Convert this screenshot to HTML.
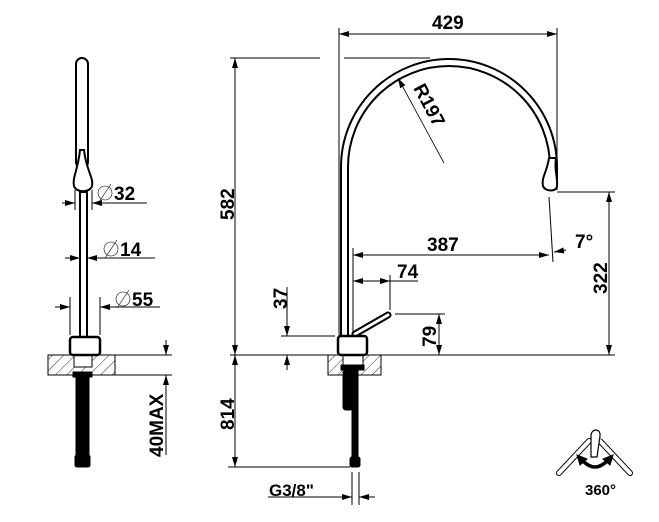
<!DOCTYPE html>
<html><head><style>
html,body{margin:0;padding:0;background:#fff;}
svg{display:block;}
text{font-family:"Liberation Sans",Arial,sans-serif;font-weight:bold;fill:#000;}
</style></head><body>
<svg width="659" height="522" viewBox="0 0 659 522" xmlns="http://www.w3.org/2000/svg">
<defs>
<marker id="a" viewBox="0 0 10 6" refX="10" refY="3" markerWidth="10" markerHeight="6" markerUnits="userSpaceOnUse" orient="auto-start-reverse"><path d="M0,0L10,3L0,6z" fill="#000"/></marker>
<pattern id="h" width="8" height="8" patternUnits="userSpaceOnUse" patternTransform="rotate(45)"><line x1="0" y1="0" x2="0" y2="8" stroke="#333" stroke-width="1"/></pattern>
</defs>
<g stroke="#000" fill="none" stroke-width="1">
<!-- LEFT VIEW -->
<rect x="76" y="58" width="12" height="110" rx="6" stroke-width="2"/>
<path d="M80,150 C78,170 72,178 74,186 C76,193 90,193 92,186 C94,178 86,170 84,150 Z" fill="#fff" stroke-width="2"/>
<rect x="80" y="192" width="7" height="145" stroke-width="2"/>
<rect x="48" y="355" width="67" height="20" fill="url(#h)"/>
<rect x="74" y="355" width="18" height="12" fill="#fff"/>
<rect x="70" y="337" width="30" height="18" rx="3" fill="#fff" stroke-width="2.5"/>
<rect x="76" y="375" width="13" height="90" fill="#000"/>
<rect x="73" y="372" width="19" height="5" fill="#000"/>
<rect x="75" y="455" width="15" height="12" rx="2" fill="#000"/>
<!-- left dims -->
<line x1="75" y1="190" x2="75" y2="210"/><line x1="92" y1="190" x2="92" y2="210"/>
<line x1="62" y1="203" x2="75" y2="203" marker-end="url(#a)"/>
<line x1="147" y1="203" x2="92" y2="203" marker-end="url(#a)"/>
<line x1="65" y1="258" x2="80" y2="258" marker-end="url(#a)"/>
<line x1="155" y1="258" x2="87" y2="258" marker-end="url(#a)"/>
<line x1="70" y1="297" x2="70" y2="335"/><line x1="100" y1="297" x2="100" y2="335"/>
<line x1="55" y1="307" x2="70" y2="307" marker-end="url(#a)"/>
<line x1="160" y1="307" x2="100" y2="307" marker-end="url(#a)"/>
<line x1="115" y1="355" x2="172" y2="355"/><line x1="115" y1="375" x2="172" y2="375"/>
<line x1="166" y1="340" x2="166" y2="355" marker-end="url(#a)"/>
<line x1="166" y1="455" x2="166" y2="375" marker-end="url(#a)"/>
<!-- RIGHT VIEW -->
<path d="M341,336 L341,167 A108,108 0 0 1 557,167 L557,180" stroke-width="2"/>
<path d="M348,336 L348,167 A101,101 0 0 1 550,167 L550,180" stroke-width="2"/>
<path d="M549,158 C547,172 541,178 543,186 C545,192 557,192 557,186 C558,178 554,170 556,158 Z" fill="#fff" stroke-width="2"/>
<line x1="355" y1="334" x2="388" y2="315" stroke-width="7" stroke-linecap="round"/>
<line x1="355" y1="334" x2="388" y2="315" stroke="#fff" stroke-width="3" stroke-linecap="round"/>
<rect x="328" y="355" width="53" height="20" fill="url(#h)"/>
<rect x="343" y="355" width="20" height="10" fill="#fff"/>
<rect x="338" y="336" width="29" height="19" rx="3" fill="#fff" stroke-width="2.5"/>
<rect x="341" y="365" width="23" height="5" fill="#000"/>
<rect x="343" y="370" width="10" height="40" rx="3" fill="#000"/>
<rect x="352" y="370" width="6" height="97" fill="#000"/>
<rect x="350" y="457" width="10" height="10" rx="2" fill="#000"/>
<!-- right dims -->
<line x1="339" y1="28" x2="339" y2="336"/>
<line x1="557" y1="28" x2="557" y2="190"/>
<line x1="339" y1="34" x2="557" y2="34" marker-start="url(#a)" marker-end="url(#a)"/>
<line x1="230" y1="58" x2="320" y2="58"/><line x1="344" y1="58" x2="430" y2="58"/>
<line x1="235" y1="58" x2="235" y2="355" marker-start="url(#a)" marker-end="url(#a)"/>
<line x1="230" y1="355" x2="615" y2="355"/>
<line x1="557" y1="192" x2="615" y2="192"/>
<line x1="609" y1="192" x2="609" y2="355" marker-start="url(#a)" marker-end="url(#a)"/>
<line x1="444" y1="163" x2="398" y2="78" stroke-width="0.8" marker-end="url(#a)"/>
<line x1="353" y1="248" x2="353" y2="336"/>
<line x1="353" y1="255" x2="549" y2="255" marker-start="url(#a)" marker-end="url(#a)"/>
<line x1="549" y1="197" x2="553" y2="262"/>
<line x1="566" y1="250" x2="554" y2="252" marker-end="url(#a)"/>
<line x1="353" y1="281" x2="418" y2="281"/>
<line x1="370" y1="281" x2="353" y2="281" marker-end="url(#a)"/>
<line x1="375" y1="281" x2="390" y2="281" marker-end="url(#a)"/>
<line x1="390" y1="275" x2="390" y2="310"/>
<line x1="395" y1="314" x2="445" y2="314"/>
<line x1="439" y1="314" x2="439" y2="355" marker-start="url(#a)" marker-end="url(#a)"/>
<line x1="281" y1="336" x2="335" y2="336"/>
<line x1="287" y1="287" x2="287" y2="336" marker-end="url(#a)"/>
<line x1="287" y1="370" x2="287" y2="355" marker-end="url(#a)"/>
<line x1="228" y1="467" x2="350" y2="467"/>
<line x1="235" y1="355" x2="235" y2="467" marker-start="url(#a)" marker-end="url(#a)"/>
<line x1="352" y1="472" x2="352" y2="505"/><line x1="359" y1="472" x2="359" y2="505"/>
<line x1="268" y1="497" x2="352" y2="497" marker-end="url(#a)"/>
<line x1="375" y1="497" x2="359" y2="497" marker-end="url(#a)"/>
<!-- 360 icon -->
<line x1="559" y1="473" x2="589" y2="441" stroke-width="6" stroke-linecap="round"/>
<line x1="559" y1="473" x2="589" y2="441" stroke="#fff" stroke-width="4" stroke-linecap="round"/>
<line x1="630" y1="473" x2="600" y2="441" stroke-width="6" stroke-linecap="round" stroke-dasharray="1,1"/>
<line x1="630" y1="473" x2="600" y2="441" stroke="#fff" stroke-width="4" stroke-linecap="round"/>
<path d="M591,457 L591,436 C591,428 601,428 600,436 L597,457 Z" fill="#fff" stroke-width="1.2"/>
<path d="M582,460 Q595,474 608,460" stroke-width="3.5"/>
<path d="M577,455 L580,465 L587,459 Z M613,455 L610,465 L603,459 Z" fill="#000"/>
</g>
<g font-size="19">
<text x="114" y="200">32</text>
<text x="120" y="256">14</text>
<text x="132" y="306">55</text>
<text x="432" y="29">429</text>
<text x="427" y="251">387</text>
<text x="397" y="278">74</text>
<text x="575" y="248">7°</text>
<text x="269" y="496" font-size="17">G3/8"</text>
<text x="585" y="495" font-size="15">360°</text>
<text transform="translate(234,220) rotate(-90)">582</text>
<text transform="translate(234,430) rotate(-90)">814</text>
<text transform="translate(607,294) rotate(-90)">322</text>
<text transform="translate(287,309) rotate(-90)">37</text>
<text transform="translate(436,347) rotate(-90)">79</text>
<text transform="translate(163,457) rotate(-90)">40MAX</text>
<text transform="translate(413,88) rotate(62)">R197</text>
</g>
<g font-size="22" stroke="#000" stroke-width="0.6" fill="none">
<circle cx="105" cy="193" r="7"/><line x1="99" y1="202" x2="111" y2="184"/>
<circle cx="111" cy="249" r="7"/><line x1="105" y1="258" x2="117" y2="240"/>
<circle cx="123" cy="299" r="7"/><line x1="117" y1="308" x2="129" y2="290"/>
</g>
</svg>
</body></html>
